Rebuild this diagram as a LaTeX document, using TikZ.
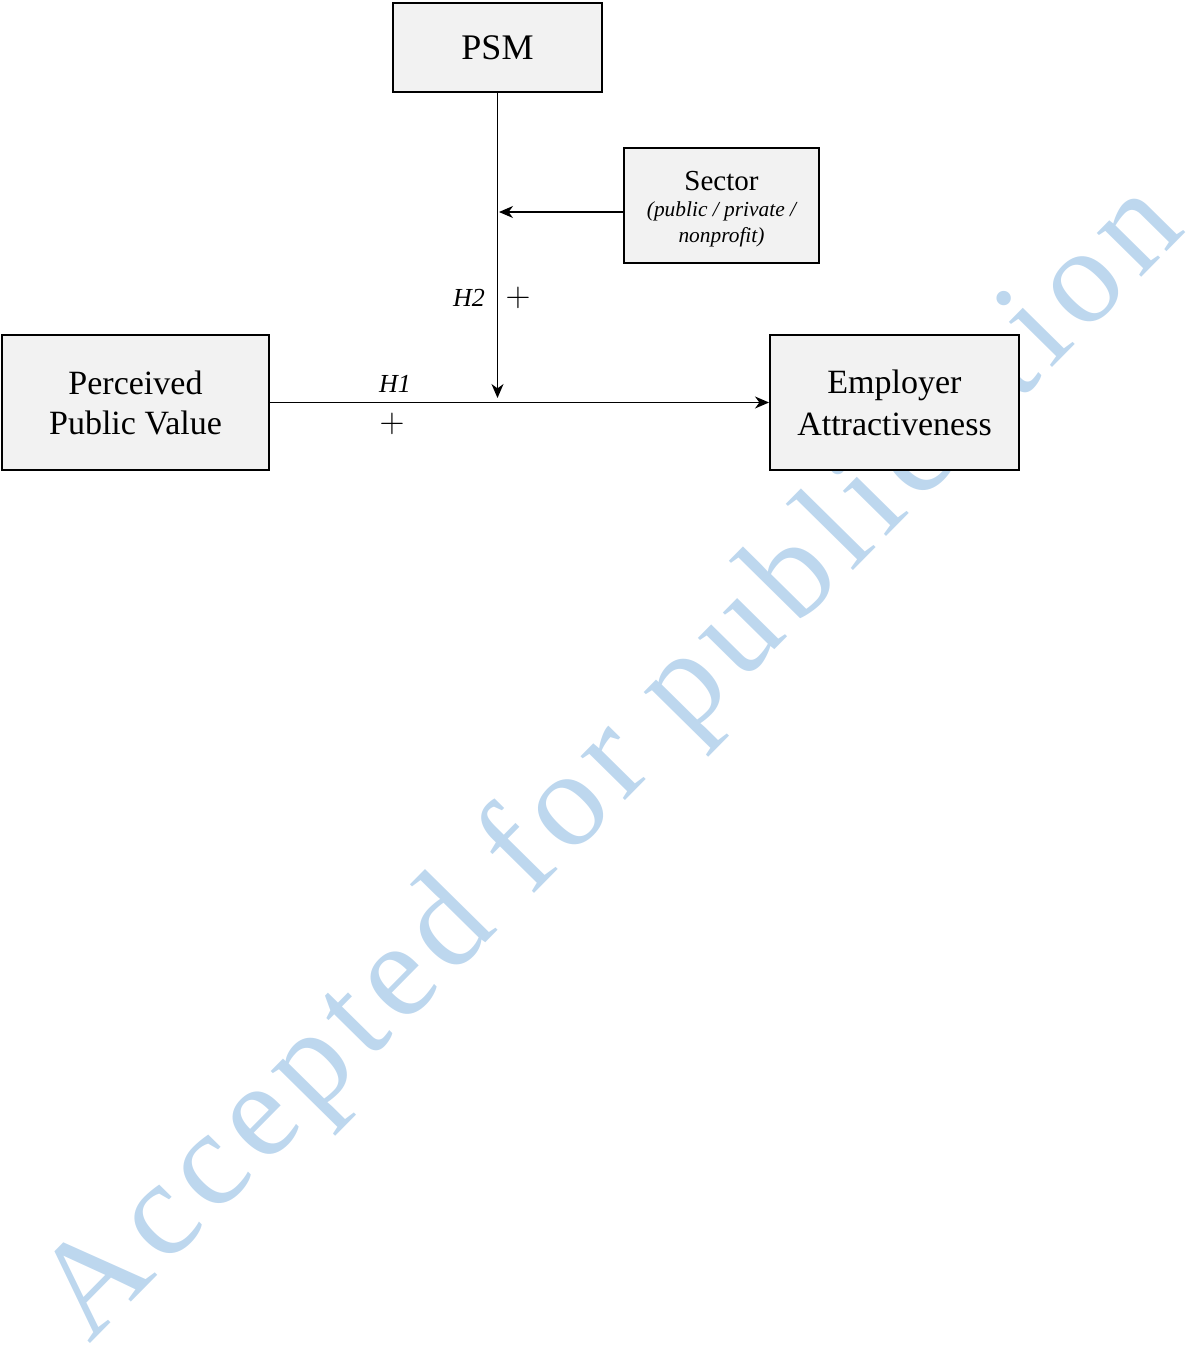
\documentclass[tikz,border=0pt]{standalone}
\usepackage{fontspec}
\setmainfont{Liberation Serif}
\usetikzlibrary{arrows.meta}
\definecolor{boxgray}{RGB}{242,242,242}
\definecolor{markblue}{RGB}{189,215,238}
\begin{document}
\begin{tikzpicture}[x=0.5pt, y=-0.5pt,
  box/.style={draw, line width=1pt, fill=boxgray, inner sep=0pt, align=center},
  link/.style={line width=0.6pt, -{Stealth[length=7pt, width=6pt, inset=2.2pt]}},
  hyp/.style={font=\itshape\fontsize{13}{15}\selectfont},
  sign/.style={font=\fontsize{16}{18}\selectfont}]
\useasboundingbox (0,0) rectangle (1192,1349);

\node (mark) [rotate=45.4, anchor=base west, inner sep=0pt, text=markblue, font=\fontsize{68}{72}\selectfont\addfontfeature{LetterSpace=7.4}] at (89,1345) {Accepted for publication};

\node (psm) [box, minimum width=104.5pt, minimum height=44.5pt, font=\fontsize{18}{21}\selectfont] at (497.5,47.5) {PSM};
\node (sector) [box, minimum width=97.5pt, minimum height=57.5pt, font=\fontsize{14.5}{13}\selectfont] at (721.5,205.5) {\rule{0pt}{13pt}Sector\\ {\itshape\fontsize{10.7}{13}\selectfont (public / private /}\\ {\itshape\fontsize{10.7}{13}\selectfont nonprofit)}};
\node (ppv) [box, minimum width=133.5pt, minimum height=67.5pt, font=\fontsize{17}{20}\selectfont] at (135.5,402.5) {Perceived\\ Public Value};
\node (ea) [box, minimum width=124.5pt, minimum height=67.5pt, font=\fontsize{17}{21}\selectfont] at (894.5,402.5) {Employer\\ Attractiveness};

\coordinate (modtip) at (497.5,398);
\coordinate (modin) at (499,212);

\draw [link](ppv) -- (ea);
\draw [link](psm) -- (modtip);
\draw [link](sector.west |- modin) -- (modin);

\node (h1) [hyp] at (395,384) {H1};
\node (h1sign) [sign] at (392,424) {$+$};
\node (h2) [hyp] at (469,298) {H2};
\node (h2sign) [sign] at (518,298) {$+$};
\end{tikzpicture}
\end{document}
